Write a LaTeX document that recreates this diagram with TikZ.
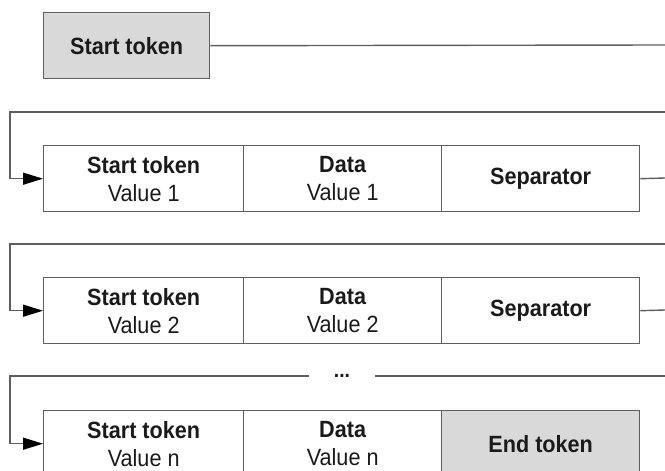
\documentclass[tikz,border=0pt]{standalone}
\usepackage{fontspec}
\setmainfont[FakeStretch=0.92]{Liberation Sans}
\usetikzlibrary{arrows.meta}
\definecolor{linegray}{HTML}{5E5E5E}
\definecolor{tokfill}{HTML}{D9D9D9}
\definecolor{txt}{HTML}{1A1A1A}
\begin{document}
\begin{tikzpicture}[x=1pt,y=-1pt,
  cell/.style={draw=linegray, line width=1.4pt, anchor=north west, inner sep=0pt,
    minimum height=66pt, align=center, text=txt,
    font=\fontsize{23.5}{28}\selectfont},
  tok/.style={cell, fill=tokfill},
  ln/.style={draw=linegray, line width=1.4pt},
  arr/.style={ln, -{Triangle[length=20pt,width=12pt,color=black]}}]
\useasboundingbox (0,0) rectangle (665,471);
\clip (0,0) rectangle (665,471);

% start token
\node[tok, minimum width=166pt] (s) at (43,12) {\textbf{Start token}};
\coordinate (e0) at (665,45);
\draw[ln] (s.east) -- (e0);

% row 1
\node[cell, minimum width=200pt] (a1) at (43,145) {\textbf{Start token}\\Value 1};
\node[cell, minimum width=198pt] (b1) at (243,145) {\textbf{Data}\\Value 1};
\node[cell, minimum width=198pt] (c1) at (441,145) {\textbf{Separator}};
\coordinate (t1r) at (665,112);
\coordinate (t1l) at (10,112);
\draw[arr] (t1r) -- (t1l) |- (a1.west);
\coordinate (o1) at (665,178);
\draw[ln] (c1.east) -- (o1);

% row 2
\node[cell, minimum width=200pt] (a2) at (43,277) {\textbf{Start token}\\Value 2};
\node[cell, minimum width=198pt] (b2) at (243,277) {\textbf{Data}\\Value 2};
\node[cell, minimum width=198pt] (c2) at (441,277) {\textbf{Separator}};
\coordinate (t2r) at (665,244);
\coordinate (t2l) at (10,244);
\draw[arr] (t2r) -- (t2l) |- (a2.west);
\coordinate (o2) at (665,310);
\draw[ln] (c2.east) -- (o2);

% row n
\node[cell, minimum width=200pt] (a3) at (43,410) {\textbf{Start token}\\Value n};
\node[cell, minimum width=198pt] (b3) at (243,410) {\textbf{Data}\\Value n};
\node[tok, minimum width=198pt] (c3) at (441,410) {\textbf{End token}};
\node[inner sep=0pt, minimum width=66pt, text=txt, font=\fontsize{21}{28}\selectfont\bfseries] (dots) at (342,376) {...};
\coordinate (t3r) at (665,376);
\coordinate (t3l) at (10,376);
\draw[ln] (t3r) -- (dots.east);
\draw[arr] (dots.west) -- (t3l) |- (a3.west);
\end{tikzpicture}
\end{document}
